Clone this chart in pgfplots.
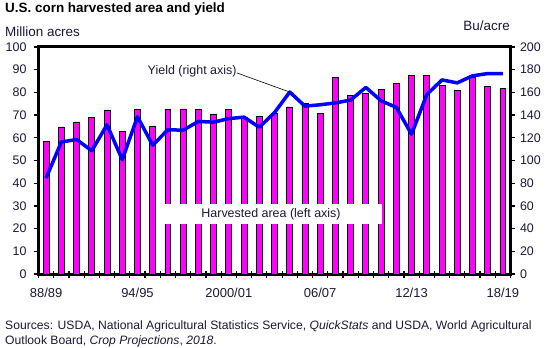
\documentclass[border=0pt]{standalone}
\usepackage{fontspec}
\setmainfont{Liberation Sans}
\usepackage{pgfplots}
\usepackage{pgfplotstable}
\pgfplotsset{compat=1.18}
\definecolor{txt}{RGB}{25,25,55}
\definecolor{barmag}{RGB}{255,0,255}
\definecolor{yieldblue}{RGB}{0,0,255}
\pgfplotstableread{
idx area yield
0 58.3 84.6
1 64.8 116.3
2 67.0 118.5
3 68.8 108.6
4 72.1 131.5
5 62.9 100.7
6 72.5 138.6
7 65.2 113.5
8 72.6 127.1
9 72.7 126.7
10 72.6 134.4
11 70.5 133.8
12 72.4 136.9
13 68.8 138.2
14 69.3 129.3
15 70.9 142.2
16 73.6 160.3
17 75.1 147.9
18 70.6 149.1
19 86.5 150.7
20 78.6 153.3
21 79.5 164.4
22 81.4 152.6
23 84.0 146.8
24 87.4 123.1
25 87.5 158.1
26 83.1 171.0
27 80.8 168.4
28 86.7 174.6
29 82.7 176.6
30 81.8 176.6
}\corn
\begin{document}
\begin{tikzpicture}[x=1bp,y=1bp]
\useasboundingbox (0,0) rectangle (550,347);
\node[anchor=base west, inner sep=0, font=\fontsize{13.5}{15}\selectfont\bfseries] at (5,334.3) {U.S. corn harvested area and yield};
\node[anchor=base west, inner sep=0, font=\fontsize{13.5}{15}\selectfont, text=txt] at (5,310.3) {Million acres};
\node[anchor=base east, inner sep=0, font=\fontsize{13.5}{15}\selectfont, text=txt] at (510,316.6) {Bu/acre};
\node[anchor=base west, inner sep=0, font=\fontsize{12.2}{14}\selectfont, text=txt] at (5,18) {Sources: USDA, National Agricultural Statistics Service, \textit{QuickStats} and USDA, World Agricultural};
\node[anchor=base west, inner sep=0, font=\fontsize{12.2}{14}\selectfont, text=txt] at (5,3) {Outlook Board, \textit{Crop Projections}, \textit{2018}.};
\begin{axis}[
  at={(38.5bp,73bp)}, anchor=south west,
  scale only axis, width=472bp, height=227bp,
  xmin=-0.5, xmax=30.5, ymin=0, ymax=100,
  axis line style={line width=3bp},
  tick align=outside,
  ytick={0,10,...,100}, ytick pos=left,
  xtick={0,6,...,30}, xtick pos=bottom,
  xticklabels={88/89,94/95,2000/01,06/07,12/13,18/19},
  major x tick style={draw=none},
  minor xtick={-0.5,0.5,...,30.5},
  minor tick length=7bp,
  minor x tick style={line width=1.2bp, black, yshift=3.5bp},
  major tick length=4bp,
  y tick style={line width=1.2bp, black},
  tick label style={font=\fontsize{12.5}{14}\selectfont, text=txt},
  y tick label style={xshift=-4.5bp},
  x tick label style={font=\fontsize{13}{15}\selectfont, text=txt, yshift=-7bp},
  /pgf/number format/assume math mode=true,
  clip=false,
]
\addplot[ybar, bar width=0.39, fill=barmag, draw=black, line width=0.8bp] table[x=idx,y=area] {\corn};
\fill[white] (axis cs:7.29,22.1) rectangle (axis cs:22.06,31.0);
\node[font=\fontsize{12.5}{14}\selectfont, text=txt] at (axis cs:14.77,26.4) {Harvested area (left axis)};
\end{axis}
\begin{axis}[
  at={(38.5bp,73bp)}, anchor=south west,
  scale only axis, width=472bp, height=227bp,
  xmin=-0.5, xmax=30.5, ymin=0, ymax=200,
  axis y line*=right, axis x line=none,
  axis line style={line width=3bp},
  tick align=outside,
  ytick={0,20,...,200},
  major tick length=4bp,
  y tick style={line width=1.2bp, black},
  tick label style={font=\fontsize{12.5}{14}\selectfont, text=txt},
  y tick label style={xshift=2bp},
  /pgf/number format/assume math mode=true,
  clip=false,
]
\addplot[yieldblue, line width=3.5bp, line join=round, mark=none] table[x=idx,y=yield] {\corn};
\draw[black, line width=0.6bp] (axis cs:12.54,177.1) -- (axis cs:16,160.3);
\node[font=\fontsize{12.5}{14}\selectfont, text=txt] at (axis cs:9.59,178.9) {Yield (right axis)};
\end{axis}
\end{tikzpicture}
\end{document}
